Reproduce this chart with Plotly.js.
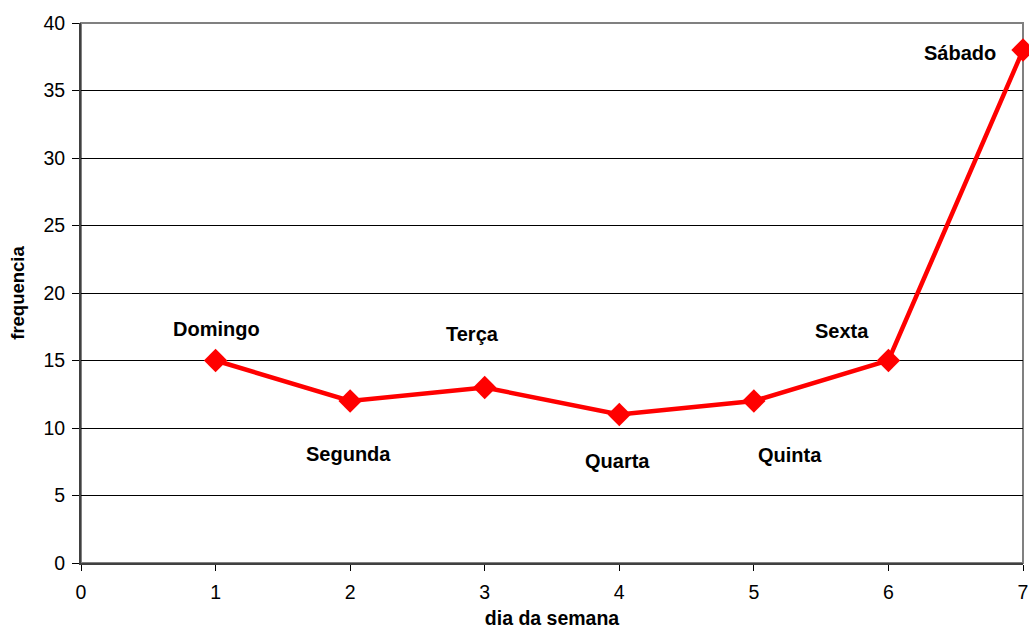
<!DOCTYPE html>
<html><head><meta charset="utf-8">
<script src="https://cdn.plot.ly/plotly-3.0.1.min.js"></script>
<style>body{margin:0;padding:0;background:#fff}#chart{width:1029px;height:630px}</style>
</head><body><div id="chart"></div>
<script>
const dayNumbers = [1, 2, 3, 4, 5, 6, 7];
const frequencies = [15, 12, 13, 11, 12, 15, 38];
const dayNames = ['Domingo', 'Segunda', 'Terça', 'Quarta', 'Quinta', 'Sexta', 'Sábado'];

// label offsets (styling only)
const labelDx = [1, -2, -12, -2, 36, -46, -63];
const labelDy = [-32, 53, -54, 46, 54, -30, 3];

const annotations = dayNames.map((name, i) => ({
  x: dayNumbers[i], y: frequencies[i], xref: 'x', yref: 'y',
  text: '<b>' + name + '</b>', showarrow: true, arrowcolor: 'rgba(0,0,0,0)',
  ax: labelDx[i], ay: labelDy[i],
  font: {family: 'Liberation Sans, Arial, sans-serif', size: 20, color: '#000'}
}));

const trace = {
  x: dayNumbers, y: frequencies, type: 'scatter', mode: 'lines+markers',
  line: {color: '#ff0000', width: 4.5},
  marker: {symbol: 'diamond', size: 18, color: '#ff0000'},
  cliponaxis: false, hoverinfo: 'skip'
};

const layout = {
  width: 1029, height: 630,
  margin: {l: 81, r: 6, t: 23, b: 67},
  paper_bgcolor: '#fff', plot_bgcolor: '#fff',
  font: {family: 'Liberation Sans, Arial, sans-serif', size: 19, color: '#000'},
  showlegend: false,
  xaxis: {
    range: [0, 7], dtick: 1, tick0: 0, showgrid: false, zeroline: false,
    showline: true, linecolor: '#404040', linewidth: 2,
    ticks: 'outside', ticklen: 6, tickcolor: '#000', tickwidth: 1,
    tickfont: {size: 19.5}, ticklabelstandoff: 5,
    title: {text: '<b>dia da semana</b>', font: {size: 19.5}, standoff: 9}
  },
  yaxis: {
    range: [0, 40], dtick: 5, tick0: 0, showgrid: true, gridcolor: '#000', gridwidth: 1,
    zeroline: false, showline: true, linecolor: '#404040', linewidth: 2,
    ticks: 'outside', ticklen: 7, tickcolor: '#000', tickwidth: 1,
    tickfont: {size: 19.5}, ticklabelstandoff: 3,
    title: {text: '<b>frequencia</b>', font: {size: 18.5}, standoff: 14}
  },
  shapes: [{type: 'rect', xref: 'paper', yref: 'paper', x0: 0, x1: 1, y0: 0, y1: 1,
    line: {color: '#808080', width: 2}, layer: 'below'}],
  annotations: annotations
};

Plotly.newPlot('chart', [trace], layout, {displayModeBar: false, staticPlot: true});
</script></body></html>
